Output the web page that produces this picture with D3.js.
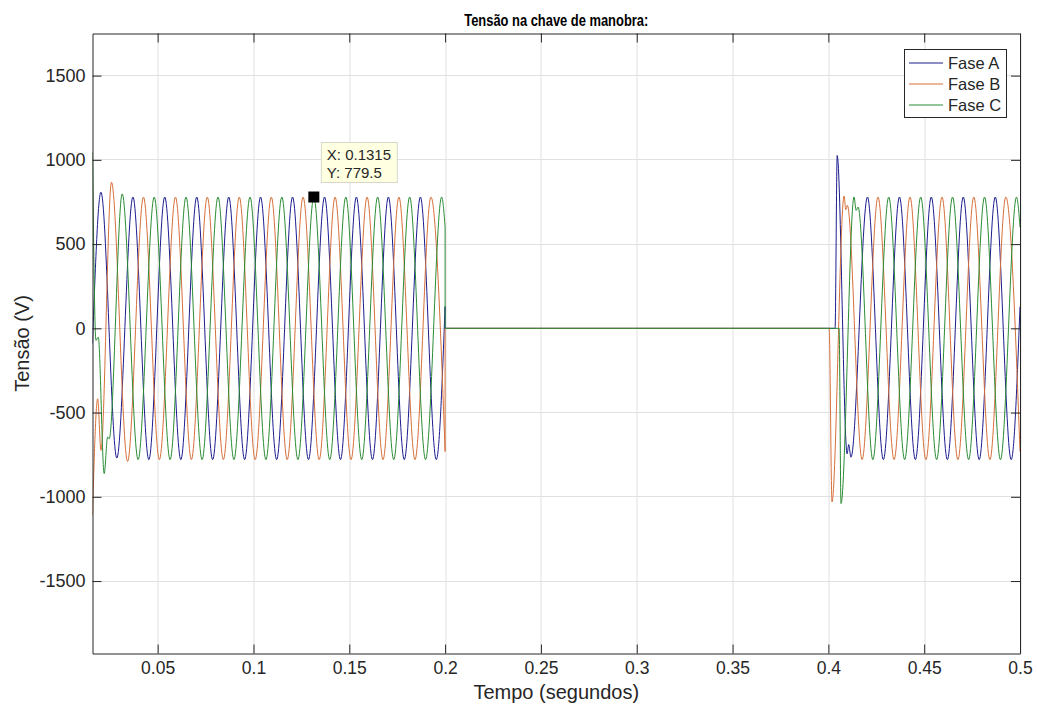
<!DOCTYPE html>
<html>
<head>
<meta charset="utf-8">
<script src="https://cdn.jsdelivr.net/npm/d3@7/dist/d3.min.js"></script>
<style>
body { margin: 0; background: #fff; }
text { font-family: "Liberation Sans", Arial, sans-serif; fill: #262626; }
</style>
</head>
<body>
<svg id="grafico" width="1037" height="711"></svg>
<script>
// eixos
var tempoTicks = [0.05, 0.1, 0.15, 0.2, 0.25, 0.3, 0.35, 0.4, 0.45, 0.5];
var tempoLabels = ["0.05", "0.1", "0.15", "0.2", "0.25", "0.3", "0.35", "0.4", "0.45", "0.5"];
var tensaoTicks = [-1500, -1000, -500, 0, 500, 1000, 1500];
var tensaoLabels = ["-1500", "-1000", "-500", "0", "500", "1000", "1500"];
var tempoLim = [0.016, 0.5];
var tensaoLim = [-1930, 1750];

var fases = ["Fase A", "Fase B", "Fase C"];
var cores = ["#1c1c8e", "#d6703a", "#2a8c34"];

// picos e vales [t, V]
var faseA = [
	[0.0160, -90], [0.0204, 808], [0.0287, -770], [0.0371, 779.5], [0.0454, -779.5],
	[0.0537, 779.5], [0.0621, -779.5], [0.0704, 779.5], [0.0787, -779.5], [0.0871, 779.5],
	[0.0954, -779.5], [0.1037, 779.5], [0.1121, -779.5], [0.1204, 779.5], [0.1287, -779.5],
	[0.1371, 779.5], [0.1454, -779.5], [0.1537, 779.5], [0.1621, -779.5], [0.1704, 779.5],
	[0.1787, -779.5], [0.1871, 779.5], [0.1954, -779.5], [0.2000, 129],
	[0.2000, 0], [0.4035, 0],
	[0.4035, 0], [0.4046, 1026], [0.4098, -745], [0.4106, -690], [0.4118, -765],
	[0.4204, 779.5], [0.4287, -779.5], [0.4371, 779.5], [0.4454, -779.5], [0.4537, 779.5],
	[0.4621, -779.5], [0.4704, 779.5], [0.4787, -779.5], [0.4871, 779.5], [0.4954, -779.5],
	[0.5000, 129]
];

var faseB = [
	[0.0160, -1110], [0.0187, -418], [0.0204, -724], [0.0259, 867], [0.0343, -790],
	[0.0426, 779.5], [0.0509, -779.5], [0.0593, 779.5], [0.0676, -779.5], [0.0759, 779.5],
	[0.0843, -779.5], [0.0926, 779.5], [0.1009, -779.5], [0.1093, 779.5], [0.1176, -779.5],
	[0.1259, 779.5], [0.1343, -779.5], [0.1426, 779.5], [0.1509, -779.5], [0.1593, 779.5],
	[0.1676, -779.5], [0.1759, 779.5], [0.1843, -779.5], [0.1926, 779.5], [0.2000, -731],
	[0.2000, 0], [0.4004, 0],
	[0.4004, 0], [0.4019, -1030], [0.4082, 785], [0.4091, 705], [0.4099, 730],
	[0.4176, -779.5], [0.4259, 779.5], [0.4343, -779.5], [0.4426, 779.5], [0.4509, -779.5],
	[0.4593, 779.5], [0.4676, -779.5], [0.4759, 779.5], [0.4843, -779.5], [0.4926, 779.5],
	[0.5000, -731]
];

var faseC = [
	[0.0160, 1045], [0.0178, -72], [0.0190, -52], [0.0221, -862], [0.0239, -645],
	[0.0247, -655], [0.0315, 798], [0.0398, -779.5], [0.0482, 779.5], [0.0565, -779.5],
	[0.0648, 779.5], [0.0732, -779.5], [0.0815, 779.5], [0.0898, -779.5], [0.0982, 779.5],
	[0.1065, -779.5], [0.1148, 779.5], [0.1232, -779.5], [0.1315, 779.5], [0.1398, -779.5],
	[0.1482, 779.5], [0.1565, -779.5], [0.1648, 779.5], [0.1732, -779.5], [0.1815, 779.5],
	[0.1898, -779.5], [0.1982, 779.5], [0.2000, 600],
	[0.2000, 0], [0.4056, 0],
	[0.4056, 0], [0.4066, -1040], [0.4134, 780], [0.4145, 700], [0.4155, 720],
	[0.4232, -779.5], [0.4315, 779.5], [0.4398, -779.5], [0.4482, 779.5], [0.4565, -779.5],
	[0.4648, 779.5], [0.4732, -779.5], [0.4815, 779.5], [0.4898, -779.5], [0.4982, 779.5],
	[0.5000, 600]
];

// cursor de dados
var cursorX = 0.1315;
var cursorY = 779.5;

var margin = {top: 33.5, left: 92.5};
var width = 927.5, height = 620;

var svg = d3.select("#grafico");
var g = svg.append("g").attr("transform", "translate(" + margin.left + "," + margin.top + ")");

var x = d3.scaleLinear().domain(tempoLim).range([0, width]);
var y = d3.scaleLinear().domain(tensaoLim).range([height, 0]);

svg.append("defs").append("clipPath").attr("id", "area")
	.append("rect").attr("width", width).attr("height", height);

// grade
g.append("g").selectAll("line")
	.data(tempoTicks).enter().append("line")
	.attr("x1", function(d) {return Math.round(x(d)) + 0.5;})
	.attr("x2", function(d) {return Math.round(x(d)) + 0.5;})
	.attr("y1", 0).attr("y2", height)
	.style("stroke", "#e0e0e0");

g.append("g").selectAll("line")
	.data(tensaoTicks).enter().append("line")
	.attr("y1", function(d) {return Math.round(y(d));})
	.attr("y2", function(d) {return Math.round(y(d));})
	.attr("x1", 0).attr("x2", width)
	.style("stroke", "#e0e0e0");

// curvas: quebra onde o tempo se repete (abertura / fechamento)
var linha = d3.line()
	.x(function(d) {return x(d[0]);})
	.y(function(d) {return y(d[1]);})
	.curve(d3.curveMonotoneX);

function trechos(pts) {
	var out = [], cur = [pts[0]];
	for (var i = 1; i < pts.length; i++) {
		if (pts[i][0] === pts[i-1][0]) {
			if (pts[i][1] === pts[i-1][1]) continue;
			out.push(cur);
			cur = [pts[i]];
		} else {
			cur.push(pts[i]);
		}
	}
	out.push(cur);
	return out;
}

function caminho(pts) {
	return trechos(pts).map(function(t, i) {
		var s = linha(t);
		return i ? s.replace(/^M/, "L") : s;
	}).join("");
}

g.append("g").attr("clip-path", "url(#area)")
	.selectAll("path")
	.data([faseA, faseB, faseC]).enter()
	.append("path")
	.attr("d", caminho)
	.style("fill", "none")
	.style("stroke", function(d, i) {return cores[i];})
	.style("stroke-width", 1);

// eixos (caixa fechada, ticks para dentro)
function estilo(sel, tam) {
	sel.attr("font-size", tam).attr("font-family", null);
	sel.selectAll("path, line").style("stroke", "#262626");
	sel.selectAll("text").style("fill", "#262626");
}

g.append("g").attr("transform", "translate(0," + height + ")")
	.call(d3.axisBottom(x).tickValues(tempoTicks)
		.tickFormat(function(d, i) {return tempoLabels[i];})
		.tickSizeInner(-9).tickSizeOuter(0).tickPadding(8))
	.call(estilo, 17.5);

g.append("g")
	.call(d3.axisTop(x).tickValues(tempoTicks).tickFormat("")
		.tickSizeInner(-9).tickSizeOuter(0))
	.call(estilo, 17.5);

g.append("g")
	.call(d3.axisLeft(y).tickValues(tensaoTicks)
		.tickFormat(function(d, i) {return tensaoLabels[i];})
		.tickSizeInner(-9).tickSizeOuter(0).tickPadding(7))
	.call(estilo, 18);

g.append("g").attr("transform", "translate(" + width + ",0)")
	.call(d3.axisRight(y).tickValues(tensaoTicks).tickFormat("")
		.tickSizeInner(-9).tickSizeOuter(0))
	.call(estilo, 18);

// titulos
svg.append("text")
	.attr("x", margin.left + width / 2).attr("y", 26)
	.attr("text-anchor", "middle")
	.attr("textLength", 184).attr("lengthAdjust", "spacingAndGlyphs")
	.style("font-size", "16px").style("font-weight", "bold")
	.style("fill", "#000")
	.text("Tensão na chave de manobra:");

svg.append("text")
	.attr("x", margin.left + width / 2).attr("y", 699)
	.attr("text-anchor", "middle")
	.style("font-size", "20px")
	.text("Tempo (segundos)");

svg.append("text")
	.attr("transform", "translate(29," + (margin.top + height / 2) + ") rotate(-90)")
	.attr("text-anchor", "middle")
	.style("font-size", "20px")
	.text("Tensão (V)");

// legenda
var leg = g.append("g").attr("transform", "translate(" + (width - 116) + ",16)");
leg.append("rect")
	.attr("x", 0.5).attr("y", 0)
	.attr("width", 102).attr("height", 68)
	.style("fill", "#fff").style("stroke", "#262626");

var item = leg.selectAll("g.item")
	.data(fases).enter().append("g")
	.attr("class", "item")
	.attr("transform", function(d, i) {return "translate(0," + (13.5 + i * 21) + ")";});

item.append("line")
	.attr("x1", 5).attr("x2", 39)
	.style("stroke", function(d, i) {return cores[i];});

item.append("text")
	.attr("x", 44).attr("dy", "0.35em")
	.style("font-size", "16.5px")
	.text(function(d) {return d;});

// marcador do cursor
var cx = x(cursorX), cy = y(cursorY);
g.append("rect")
	.attr("x", cx - 5.5).attr("y", cy - 5.5)
	.attr("width", 11).attr("height", 11)
	.style("fill", "#000");

var dica = g.append("g").attr("transform", "translate(" + (cx + 7) + "," + (cy - 55) + ")");
dica.append("rect")
	.attr("x", 0.5).attr("y", 0.5)
	.attr("width", 76).attr("height", 40)
	.style("fill", "#ffffe1").style("stroke", "#d8d8c8");
dica.append("text")
	.attr("x", 6).attr("y", 18)
	.style("font-size", "15px")
	.text("X: " + cursorX);
dica.append("text")
	.attr("x", 6).attr("y", 36)
	.style("font-size", "15px")
	.text("Y: " + cursorY);
</script>
</body>
</html>
